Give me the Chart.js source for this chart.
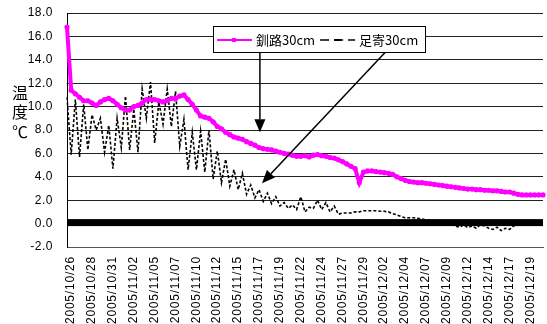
<!DOCTYPE html>
<html>
<head>
<meta charset="utf-8">
<script src="https://cdn.jsdelivr.net/npm/chart.js@4.4.0/dist/chart.umd.min.js"></script>
<style>
  html, body { margin: 0; padding: 0; background: #fff; }
  #wrap { width: 547px; height: 324px; }
</style>
</head>
<body>
<div id="wrap"><canvas id="myChart" width="547" height="324"></canvas></div>
<script>
// tick labels shown on the date axis (one every 5 half-day steps)
const tickLabels = [
  "2005/10/26", "2005/10/28", "2005/10/31", "2005/11/02", "2005/11/05",
  "2005/11/07", "2005/11/10", "2005/11/12", "2005/11/15", "2005/11/17",
  "2005/11/19", "2005/11/22", "2005/11/24", "2005/11/27", "2005/11/29",
  "2005/12/02", "2005/12/04", "2005/12/07", "2005/12/09", "2005/12/12",
  "2005/12/14", "2005/12/17", "2005/12/19",
];

// 釧路 30cm, half-day readings
const kushiro = [
  16.8, 11.4, 11.1, 10.8, 10.5, 10.5, 10.3, 10.1, 10.4, 10.6,
  10.7, 10.5, 10.2, 9.9, 9.7, 9.7, 10.0, 10.1, 10.3, 10.6,
  10.6, 10.6, 10.5, 10.4, 10.5, 10.7, 10.7, 10.9, 11.0, 10.6,
  10.2, 9.7, 9.2, 9.1, 9.0, 8.7, 8.3, 8.1, 7.8, 7.6,
  7.4, 7.3, 7.2, 7.0, 6.85, 6.7, 6.5, 6.4, 6.35, 6.3,
  6.2, 6.1, 6.0, 5.95, 5.85, 5.75, 5.75, 5.8, 5.7, 5.85,
  5.9, 5.8, 5.75, 5.65, 5.6, 5.45, 5.3, 5.1, 4.9, 4.7,
  3.5, 4.4, 4.5, 4.5, 4.45, 4.4, 4.35, 4.3, 4.2, 4.0,
  3.85, 3.7, 3.6, 3.55, 3.5, 3.5, 3.45, 3.4, 3.35, 3.3,
  3.25, 3.2, 3.15, 3.1, 3.05, 3.0, 2.95, 2.95, 2.9, 2.9,
  2.85, 2.85, 2.8, 2.8, 2.75, 2.7, 2.7, 2.6, 2.5, 2.45,
  2.45, 2.45, 2.45, 2.45, 2.45,
];

// 足寄 30cm, half-day readings (daily high / low)
const ashoro = [
  10.8, 5.9, 10.6, 5.7, 10.2, 6.3, 9.3, 8.0, 9.0, 6.1,
  8.4, 4.7, 9.0, 6.5, 10.9, 6.3, 9.8, 6.1, 11.5, 9.0,
  12.1, 6.9, 10.4, 8.5, 11.5, 8.3, 11.3, 6.6, 8.9, 4.6,
  7.8, 4.6, 7.9, 4.4, 8.0, 3.8, 6.2, 3.5, 5.5, 3.2,
  4.6, 2.9, 4.3, 2.5, 3.3, 2.2, 2.9, 1.9, 2.6, 1.7,
  2.3, 1.5, 1.8, 1.3, 1.6, 1.2, 2.3, 1.0, 1.4, 1.3,
  2.0, 1.2, 1.8, 1.0, 1.5, 0.8, 0.9, 0.9, 0.9, 1.0,
  1.0, 1.1, 1.1, 1.1, 1.1, 1.05, 1.05, 1.0, 0.85, 0.75,
  0.6, 0.5, 0.5, 0.5, 0.45, 0.4, 0.3, 0.3, 0.25, 0.2,
  0.2, 0.1, 0.0, -0.2, -0.3, -0.1, -0.35, -0.2, -0.4, -0.1,
  -0.2, -0.4, -0.5, -0.3, -0.6, -0.4, -0.5, -0.2, 0.0, 0.1,
  0.15, 0.1, 0.2, 0.2, 0.2,
];

// each category is half a day, labelled with the block's tick date
const categories = kushiro.map((v, i) => tickLabels[Math.floor(i / 5)]);

// arrows drawn from the legend down to each curve (in data units)
const arrows = [
  { from: [46.2, 14.7], to: [46.2, 7.8] },
  { from: [76.4, 14.7], to: [46.7, 3.45] },
];

const letterSpacing = { x: "0.8px", y: "0.5px" };

// wraps the label drawing of each axis to widen the text like the original
const spacingPlugin = {
  id: "spacing",
  beforeDraw(chart) {
    Object.values(chart.scales).forEach((s) => {
      if (s._spaced) return;
      const orig = s.drawLabels.bind(s);
      const sp = letterSpacing[s.id] || "0px";
      s.drawLabels = function (area) {
        const c = this.ctx;
        c.save();
        c.letterSpacing = sp;
        orig(area);
        c.restore();
      };
      s._spaced = true;
    });
  },
};

function drawArrow(ctx, x1, y1, x2, y2) {
  const ang = Math.atan2(y2 - y1, x2 - x1);
  const len = 13;
  const half = 5.5;
  const bx = x2 - len * Math.cos(ang);
  const by = y2 - len * Math.sin(ang);
  ctx.beginPath();
  ctx.moveTo(x1, y1);
  ctx.lineTo(bx, by);
  ctx.stroke();
  ctx.beginPath();
  ctx.moveTo(x2, y2);
  ctx.lineTo(bx + half * Math.sin(ang), by - half * Math.cos(ang));
  ctx.lineTo(bx - half * Math.sin(ang), by + half * Math.cos(ang));
  ctx.closePath();
  ctx.fill();
}

const extrasPlugin = {
  id: "extras",
  beforeDatasetsDraw(chart) {
    // dense category tick marks of the axis crossing at 0
    const { ctx, chartArea, scales } = chart;
    const y0 = scales.y.getPixelForValue(0);
    ctx.save();
    ctx.fillStyle = "#000";
    ctx.fillRect(chartArea.left, y0 - 4.5, chartArea.right - chartArea.left, 7);
    ctx.restore();
  },
  afterDatasetsDraw(chart) {
    const { ctx, chartArea, scales } = chart;
    const ds = chart.data.datasets;
    ctx.save();

    // arrows
    ctx.strokeStyle = "#000";
    ctx.fillStyle = "#000";
    ctx.lineWidth = 1.5;
    arrows.forEach((a) => {
      drawArrow(
        ctx,
        scales.x.getPixelForValue(a.from[0]),
        scales.y.getPixelForValue(a.from[1]),
        scales.x.getPixelForValue(a.to[0]),
        scales.y.getPixelForValue(a.to[1])
      );
    });

    // legend box
    ctx.font = '13px "Noto Sans CJK JP"';
    const w1 = ctx.measureText(ds[0].label).width;
    const w2 = ctx.measureText(ds[1].label).width;
    const bx = chartArea.left + 146;
    const by = chartArea.top + 13;
    const bw = 4 + 35 + 4 + w1 + 5 + 35 + 4 + w2 + 7;
    const bh = 26;
    const cy = by + 14;
    ctx.fillStyle = "#fff";
    ctx.fillRect(bx, by, bw, bh);
    ctx.strokeStyle = "#000";
    ctx.lineWidth = 1;
    ctx.strokeRect(Math.round(bx) + 0.5, Math.round(by) + 0.5, Math.round(bw), bh);

    let x = bx + 4;
    ctx.strokeStyle = ds[0].borderColor;
    ctx.lineWidth = 2;
    ctx.beginPath();
    ctx.moveTo(x, cy);
    ctx.lineTo(x + 35, cy);
    ctx.stroke();
    ctx.fillStyle = ds[0].borderColor;
    ctx.fillRect(x + 15, cy - 2, 4, 4);
    x += 39;
    ctx.fillStyle = "#000";
    ctx.textAlign = "left";
    ctx.textBaseline = "middle";
    ctx.fillText(ds[0].label, x, cy);
    x += w1 + 5;

    ctx.strokeStyle = ds[1].borderColor;
    ctx.lineWidth = 1.5;
    ctx.setLineDash([9, 5]);
    ctx.beginPath();
    ctx.moveTo(x, cy);
    ctx.lineTo(x + 35, cy);
    ctx.stroke();
    ctx.setLineDash([]);
    ctx.fillRect(x + 14, cy - 1, 7, 2);
    x += 39;
    ctx.fillText(ds[1].label, x, cy);

    // y axis title, stacked characters
    ctx.font = '16px "Noto Sans CJK JP"';
    ctx.textAlign = "center";
    ["温", "度"].forEach((ch, i) => ctx.fillText(ch, 20, 93 + i * 19));
    ctx.fillText("℃", 20, 132);
    ctx.restore();
  },
};

const ctx = document.getElementById("myChart");
new Chart(ctx, {
  type: "line",
  data: {
    labels: categories,
    datasets: [
      {
        label: "釧路30cm",
        data: kushiro,
        borderColor: "#FF00FF",
        backgroundColor: "#FF00FF",
        borderWidth: 4,
        pointRadius: 2.6,
        pointBorderWidth: 0,
        pointBackgroundColor: "#FF00FF",
        tension: 0,
      },
      {
        label: "足寄30cm",
        data: ashoro,
        borderColor: "#000000",
        backgroundColor: "#000000",
        borderWidth: 1.6,
        borderDash: [3, 2],
        pointRadius: 0,
        tension: 0,
      },
    ],
  },
  options: {
    responsive: false,
    animation: false,
    devicePixelRatio: 1,
    layout: { padding: { top: 13, left: 0, right: 0, bottom: 0 } },
    plugins: {
      legend: { display: false },
      tooltip: { enabled: false },
    },
    scales: {
      x: {
        type: "category",
        offset: false,
        grid: { display: false },
        border: { display: true, color: "#555", width: 1 },
        ticks: {
          autoSkip: false,
          maxRotation: 90,
          minRotation: 90,
          padding: 1,
          labelOffset: 4,
          color: "#000",
          font: { family: "Liberation Sans", size: 12 },
          callback: (v, i) => (i % 5 === 0 ? categories[i] : ""),
        },
        afterFit(scale) {
          scale.height = 77;
          scale.paddingLeft = 0;
          scale.paddingRight = 0;
        },
      },
      y: {
        min: -2,
        max: 18,
        grid: { color: "#222", lineWidth: 1, drawTicks: false },
        border: { display: true, color: "#000", width: 1 },
        ticks: {
          stepSize: 2,
          padding: 14,
          color: "#000",
          font: { family: "Liberation Sans", size: 12 },
          callback: (v) => v.toFixed(1),
        },
        afterFit(scale) {
          scale.width = 67;
          scale.paddingTop = 0;
          scale.paddingBottom = 0;
        },
      },
    },
  },
  plugins: [spacingPlugin, extrasPlugin],
});
</script>
</body>
</html>
